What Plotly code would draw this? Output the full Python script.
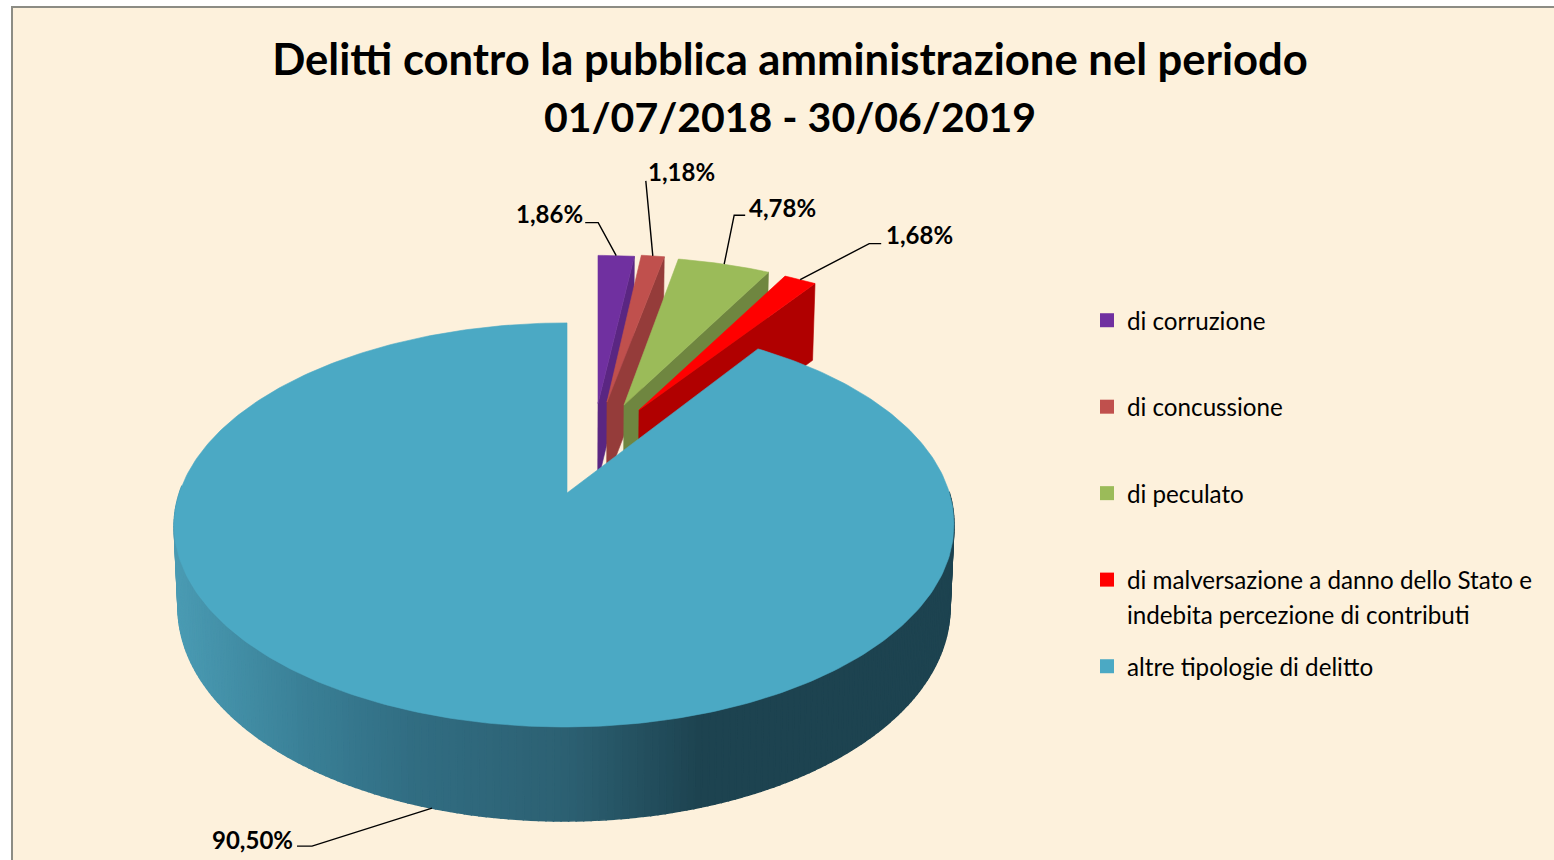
import math
import plotly.graph_objects as go

# ---------- data ----------
categories = ["di corruzione", "di concussione", "di peculato",
              "di malversazione a danno dello Stato e", "altre tipologie di delitto"]
category_second_line = {3: "indebita percezione di contributi"}
values = [1.86, 1.18, 4.78, 1.68, 90.50]
title_lines = ["Delitti contro la pubblica amministrazione nel periodo", "01/07/2018 - 30/06/2019"]

# ---------- styles ----------
top_colors = ["#7030A0", "#C0504D", "#9BBB59", "#FF0000", "#4BA9C4"]
wall_colors = ["#5A2682", "#953C3A", "#6F8640", "#B00000", None]
# explosion of each slice: page shift at the tip, page shift at the rim, depth in the pie plane
explode = [(31, 31, 0.49), (40, 38, 0.498), (57, 52, 0.48), (72, 68, 0.451), (0, 0, 0.0)]
# leader line offsets from the rim point: elbow, end; label gap/anchor
leaders = [((-18, -33), (-31, -33), "right", 0, -9),
           ((-7, -75), (-7, -75), "left", 0, -9),
           ((10, -49), (21, -49), "left", 2, -8),
           ((69, -36), (81, -36), "left", 3, -9),
           ((-120, 38), (-135, 38), "right", -2, -7)]
grad_x = [174, 300, 411, 568, 700, 960]
grad_c = [(0x4A, 0x9B, 0xB3), (0x3A, 0x80, 0x97), (0x31, 0x6D, 0x82),
          (0x2C, 0x60, 0x72), (0x1D, 0x43, 0x50), (0x1D, 0x43, 0x50)]
BG = "#FDF1DC"
FONT = "Lato"

# ---------- projection of the pie plane to the page ----------
APX, APY, RX, RY, K = 567.0, 493.0, 385.0, 197.0, 0.158


def top(u, v, dx=0.0):
    w = 1 + K * v
    return APX + dx + RX * u / w, APY - RY * v / w


def bottom(u, v, dx=0.0):
    x, y = top(u, v, dx)
    h = 80 - 14 * v if v < 0 else 80 - 2.5 * v
    return APX + (x - APX) * 0.99, y + h


def hexcol(c):
    return "#%02X%02X%02X" % tuple(int(round(i)) for i in c)


def grad(x):
    for i in range(len(grad_x) - 1):
        if x <= grad_x[i + 1]:
            t = max(0.0, (x - grad_x[i]) / (grad_x[i + 1] - grad_x[i]))
            return hexcol([a + (b - a) * t for a, b in zip(grad_c[i], grad_c[i + 1])])
    return hexcol(grad_c[-1])


def poly(points, color, lw=0.6):
    xs, ys = zip(*points)
    return go.Scatter(x=list(xs) + [xs[0]], y=list(ys) + [ys[0]], mode="lines", fill="toself",
                      fillcolor=color, line=dict(color=color, width=lw), hoverinfo="skip", showlegend=False)


fig = go.Figure()

# slice angles from the values, clockwise from north
total = sum(values)
edges = [0.0]
for val in values:
    edges.append(edges[-1] + val / total * 2 * math.pi)


def rim_point(i, a):
    d_tip, d_rim, ov = explode[i]
    v = ov + math.cos(a)
    dx = d_rim
    if not wall_colors[i]:
        dx = -3 * min(1.0, (1 - v) / 1.16)   # the big disc leans slightly to the left
    return math.sin(a), v, dx


rims = []
for i, val in enumerate(values):
    a0, a1 = edges[i], edges[i + 1]
    d_tip, d_rim, ov = explode[i]
    n = max(6, int((a1 - a0) * 60))
    pts = [rim_point(i, a0 + (a1 - a0) * j / n) for j in range(n + 1)]
    tip = (0.0, ov, d_tip)
    if wall_colors[i]:
        e = pts[-1]
        fig.add_trace(poly([top(*tip), top(*e), bottom(*e), bottom(*tip)], wall_colors[i]))
    else:
        # curved outer wall, shaded strip by strip
        front = [j for j in range(n) if pts[j][1] < 0.02]
        step = max(1, len(front) // 110)
        for j in front[::step]:
            p, q = pts[j], pts[min(j + step, n)]
            xm = (top(*p)[0] + top(*q)[0]) / 2
            fig.add_trace(poly([top(*p), top(*q), bottom(*q), bottom(*p)], grad(xm), lw=1.5))
    fig.add_trace(poly([top(*tip)] + [top(*p) for p in pts], top_colors[i]))
    mp = rim_point(i, (a0 + a1) / 2)
    rims.append(bottom(*mp) if not wall_colors[i] else top(*mp))

# leader lines and data labels
annotations = []
for i, val in enumerate(values):
    (ex, ey), (tx, ty), anchor, gap, dy = leaders[i]
    rx, ry = rims[i]
    fig.add_trace(go.Scatter(x=[rx, rx + ex, rx + tx], y=[ry, ry + ey, ry + ty], mode="lines",
                             line=dict(color="black", width=1.4), hoverinfo="skip", showlegend=False))
    annotations.append(dict(x=rx + tx + gap, y=ry + ty + dy, xref="x", yref="y", showarrow=False,
                            xanchor=anchor, yanchor="middle", text=f"{val:.2f}".replace(".", ",") + "%",
                            font=dict(family=FONT, size=24, color="black", weight="bold")))

# legend entries
for i, name in enumerate(categories):
    target = "legend2" if i == 4 else "legend"
    fig.add_trace(go.Scatter(x=[None], y=[None], mode="markers", name=name,
                             marker=dict(symbol="square", size=14, color=top_colors[i]),
                             legendgroup=str(i), legend=target))
    if i in category_second_line:
        fig.add_trace(go.Scatter(x=[None], y=[None], mode="markers", name=category_second_line[i],
                                 marker=dict(symbol="square", size=14, color="rgba(0,0,0,0)"),
                                 legendgroup=str(i), legend=target))

W, H = 1554, 860
legend_common = dict(xanchor="left", yanchor="top", bgcolor="rgba(0,0,0,0)", borderwidth=0,
                     font=dict(family=FONT, size=24.2, color="black"), itemclick=False,
                     itemdoubleclick=False, tracegroupgap=52, traceorder="grouped")
title_text = (title_lines[0] + "<br>" +
              '<span style="font-size:41px">' + title_lines[1] + "</span>")
fig.update_layout(
    width=W, height=H, autosize=False, margin=dict(l=0, r=0, t=0, b=0),
    paper_bgcolor="white", plot_bgcolor="rgba(0,0,0,0)",
    xaxis=dict(range=[0, W], visible=False, fixedrange=True),
    yaxis=dict(range=[H, 0], visible=False, fixedrange=True),
    title=dict(text=title_text, x=790 / W, xanchor="center", y=1 - 75 / H, yanchor="top",
               font=dict(family=FONT, size=43.6, color="black", weight="bold")),
    legend=dict(x=1087 / W, y=1 - 298 / H, **legend_common),
    legend2=dict(x=1087 / W, y=1 - 644 / H, **legend_common),
    shapes=[dict(type="rect", xref="x", yref="y", x0=12, y0=7, x1=W + 20, y1=H + 20, layer="below",
                 fillcolor=BG, line=dict(color="#8C8C84", width=2))],
    annotations=annotations,
)

fig.write_html("out.html", config={"displayModeBar": False},
               post_script="document.body.style.margin='0';document.body.style.overflow='hidden';")
